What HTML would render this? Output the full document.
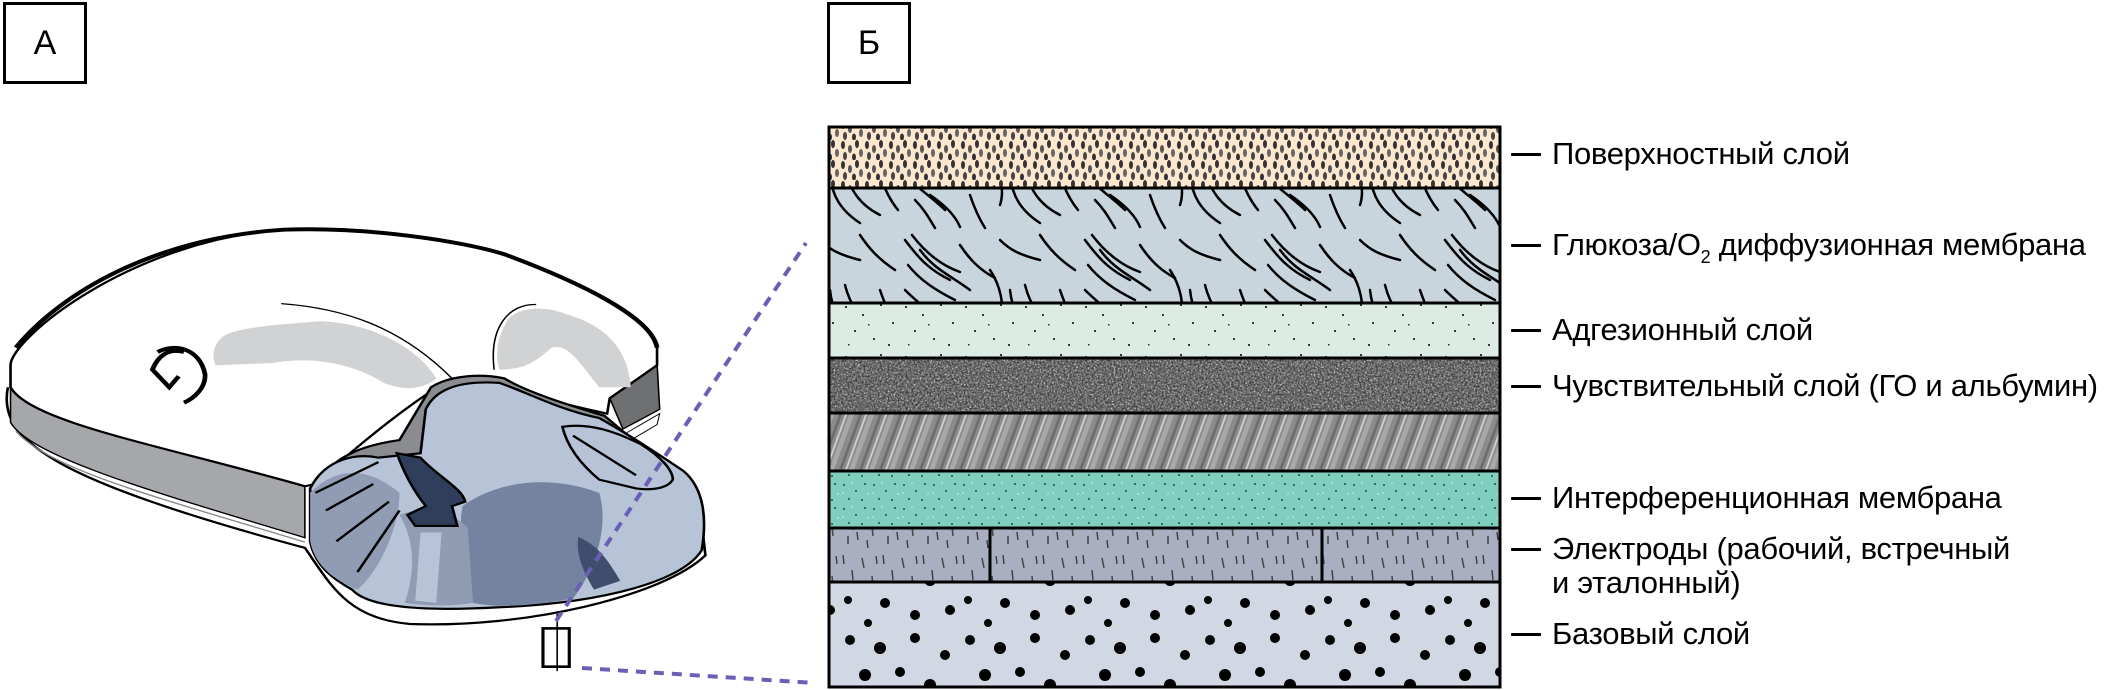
<!DOCTYPE html>
<html><head><meta charset="utf-8"><style>
html,body{margin:0;padding:0;background:#fff;}
body{width:2128px;height:690px;position:relative;overflow:hidden;font-family:"Liberation Sans","DejaVu Sans",sans-serif;}
.box{position:absolute;width:78px;height:76px;border:3px solid #000;box-sizing:content-box;font-size:34px;text-align:center;line-height:76px;}
.lbl{position:absolute;left:1552px;font-size:31px;color:#000;white-space:nowrap;letter-spacing:-0.3px;line-height:34px;}
.dash{position:absolute;left:1511px;width:30px;height:3px;background:#000;}
</style></head><body>
<div class="box" style="left:3px;top:2px;">А</div>
<div class="box" style="left:827px;top:2px;">Б</div>

<svg style="position:absolute;left:0;top:0" width="820" height="690" viewBox="0 0 1560 1568" preserveAspectRatio="none">
<!-- base plate -->
<path d="M15,880 C-5,1000 100,1090 580,1245 C630,1330 660,1405 780,1418 C1000,1428 1260,1355 1342,1262 L1330,1150 L1150,1000 L20,840 Z" fill="#fff"/>
<path d="M15,880 C-5,1000 100,1090 580,1245 C630,1330 660,1405 780,1418 C1000,1428 1260,1355 1342,1262 L1338,1220" fill="none" stroke="#000" stroke-width="5"/>
<path d="M30,980 C100,1070 300,1130 580,1232" fill="none" stroke="#888" stroke-width="3"/>
<!-- side band -->
<path d="M20,840 L20,960 C60,1040 300,1120 580,1222 L580,1105 C300,1010 60,960 20,880 Z" fill="#a6a7aa" stroke="#000" stroke-width="3"/>
<!-- right dark piece -->
<path d="M1160,905 L1250,825 L1255,930 L1185,975 Z" fill="#6f7072" stroke="#000" stroke-width="3"/>
<path d="M1190,985 L1255,940 L1250,965 L1200,1000 Z" fill="#fff" stroke="#000" stroke-width="2"/>
<!-- top surface -->
<path d="M20,830 C20,770 250,545 540,522 C700,515 880,548 960,578 C1100,640 1240,720 1250,790 L1250,830 L1160,905 L1155,940 C1000,900 900,860 860,860 C800,900 700,990 600,1100 L580,1105 C300,1010 60,960 20,880 Z" fill="#fff" stroke="#000" stroke-width="5"/>
<path d="M30,790 C120,660 300,540 540,522 C700,515 880,548 960,578 C1100,640 1240,720 1250,790" fill="none" stroke="#000" stroke-width="9"/>
<!-- light gray shapes -->
<path d="M430,760 C470,740 560,735 610,730 C720,735 800,800 830,860 C800,890 760,885 730,870 C650,810 560,815 520,825 L410,830 C400,800 410,775 430,760 Z" fill="#d1d2d4"/>
<path d="M960,740 C970,700 1030,690 1080,715 C1150,740 1195,790 1200,880 L1140,880 C1100,820 1080,780 1050,790 C1020,820 1000,840 950,840 C940,800 950,760 960,740 Z" fill="#d1d2d4"/>
<path d="M535,690 C650,700 760,740 860,860" fill="none" stroke="#000" stroke-width="3"/>
<path d="M1020,692 C970,690 930,740 940,840" fill="none" stroke="#000" stroke-width="3"/>
<!-- logo -->
<path d="M350,800 C320,790 300,810 290,840 L322,880 L340,855 M300,800 C330,780 380,790 390,850 C392,880 370,905 350,915" fill="none" stroke="#000" stroke-width="9"/>
<!-- shadow region -->
<path d="M600,1100 C640,1030 700,1010 760,1000 L820,880 C860,850 920,850 960,860 C1000,890 1080,920 1150,945 L1190,985 L1150,1000 L800,1050 Z" fill="#8b8c8f" stroke="#000" stroke-width="5"/>
<!-- blob -->
<path d="M590,1110 C620,1040 680,1030 720,1040 L800,1030 L810,930 C830,880 880,865 950,870 C1000,890 1060,930 1140,950 C1200,990 1250,1030 1300,1070 C1340,1110 1345,1180 1335,1250 C1300,1320 1150,1370 950,1380 C800,1390 700,1380 670,1340 C640,1320 600,1290 590,1230 Z" fill="#b7c3d7" stroke="#000" stroke-width="5"/>
<path d="M590,1120 C640,1060 700,1060 760,1120 C760,1200 720,1300 680,1340 C640,1320 600,1290 590,1230 Z" fill="#8f9cb4"/>
<path d="M880,1150 C950,1090 1050,1080 1140,1120 C1160,1200 1130,1300 1090,1360 C1000,1380 940,1380 900,1370 C880,1300 870,1220 880,1150 Z" fill="#7383a0"/>
<path d="M1100,1220 C1140,1240 1160,1280 1180,1320 L1130,1340 C1110,1300 1095,1260 1100,1220 Z" fill="#3e4e6c"/>
<path d="M760,1170 C800,1150 860,1160 890,1200 L900,1370 C850,1380 800,1375 770,1370 C790,1300 790,1230 760,1170 Z" fill="#8f9cb4"/>
<path d="M800,1210 L840,1210 L830,1370 L790,1365 Z" fill="#b7c3d7"/>
<!-- left ribs -->
<path d="M600,1120 L720,1050 M620,1160 L710,1100 M640,1230 L740,1140 M680,1300 L760,1160" fill="none" stroke="#000" stroke-width="5"/>
<!-- navy slot -->
<path d="M755,1030 L800,1040 C830,1080 880,1110 885,1140 L860,1150 L870,1195 L790,1195 L775,1170 L810,1150 C790,1120 770,1080 755,1030 Z" fill="#2f3e5b" stroke="#000" stroke-width="5"/>
<!-- right flap -->
<path d="M1070,970 C1120,960 1170,980 1220,1010 C1260,1040 1280,1070 1280,1090 C1270,1110 1240,1115 1210,1110 L1140,1090 C1110,1060 1080,1020 1070,970 Z" fill="#b7c3d7" stroke="#000" stroke-width="5"/>
<path d="M1090,990 L1210,1080" stroke="#000" stroke-width="5"/>
<!-- small rectangle marker -->
<rect x="1033" y="1428" width="50" height="87" fill="#fff" stroke="#000" stroke-width="6"/>
<line x1="1060" y1="1395" x2="1060" y2="1525" stroke="#000" stroke-width="3"/>
</svg>

<svg style="position:absolute;left:0;top:0" width="2128" height="690">
<defs>
<pattern id="p1" width="24" height="20" patternUnits="userSpaceOnUse">
<rect width="24" height="20" fill="#fde7cf"/>
<g fill="#333"><ellipse cx="3" cy="5" rx="2" ry="4"/><ellipse cx="10" cy="9" rx="2" ry="4" fill="#555"/><ellipse cx="17" cy="4" rx="2" ry="4"/><ellipse cx="21" cy="13" rx="2" ry="4" fill="#666"/><ellipse cx="5" cy="16" rx="2" ry="4" fill="#444"/><ellipse cx="14" cy="17" rx="2" ry="3.5"/></g>
</pattern>
<pattern id="p2" width="180" height="115" patternUnits="userSpaceOnUse">
<rect width="180" height="115" fill="#c8d5dc"/>
<g fill="none" stroke="#000" stroke-width="2.5" stroke-linecap="round">
<path d="M5,10 C20,30 30,40 50,50"/><path d="M12,5 C25,22 40,35 60,42"/><path d="M20,20 C35,40 50,45 70,60"/><path d="M8,35 C20,50 35,60 55,70"/><path d="M5,60 C20,75 35,85 45,95"/><path d="M30,80 C45,90 55,100 60,112"/><path d="M90,40 C100,55 105,75 100,90"/><path d="M110,60 C112,80 120,95 140,108"/><path d="M125,55 C130,75 140,90 160,100"/><path d="M140,5 C150,20 160,30 175,40"/><path d="M100,10 C110,20 120,25 140,30"/><path d="M160,60 C165,75 170,85 178,95"/><path d="M70,80 C75,95 80,105 85,113"/><path d="M60,15 C70,30 80,40 95,48"/><path d="M15,85 C25,95 30,105 35,113"/>
</g></pattern>
<pattern id="p3" width="60" height="50" patternUnits="userSpaceOnUse">
<rect width="60" height="50" fill="#dcebe4"/>
<g fill="#333"><rect x="5" y="6" width="2" height="2"/><rect x="22" y="14" width="2" height="2"/><rect x="40" y="4" width="2" height="2"/><rect x="52" y="22" width="2" height="2"/><rect x="14" y="30" width="2" height="2"/><rect x="33" y="38" width="2" height="2"/><rect x="48" y="44" width="2" height="2"/><rect x="8" y="44" width="1.5" height="1.5"/><rect x="28" y="24" width="1.5" height="1.5"/></g>
</pattern>
<pattern id="p5" width="20" height="60" patternUnits="userSpaceOnUse" patternTransform="skewX(-20)">
<rect width="20" height="60" fill="#8c8c8c"/><rect x="0" width="5" height="60" fill="#a8a8a8"/><rect x="10" width="3" height="60" fill="#6e6e6e"/><rect x="16" width="2" height="60" fill="#cfcfcf"/>
</pattern>
<pattern id="p6" width="30" height="24" patternUnits="userSpaceOnUse">
<rect width="30" height="24" fill="#80cfbe"/>
<g fill="#3a6a60"><rect x="3" y="4" width="2" height="2"/><rect x="15" y="10" width="2" height="2"/><rect x="24" y="3" width="2" height="2"/><rect x="8" y="18" width="2" height="2"/><rect x="21" y="19" width="2" height="2"/></g>
<g fill="#a5ddd0"><rect x="11" y="2" width="2" height="2"/><rect x="27" y="13" width="2" height="2"/><rect x="2" y="12" width="2" height="2"/></g>
</pattern>
<pattern id="p7" width="40" height="50" patternUnits="userSpaceOnUse">
<rect width="40" height="50" fill="#a9afc1"/>
<g stroke="#444" stroke-width="1.5"><line x1="3" y1="5" x2="4" y2="14"/><line x1="12" y1="20" x2="13" y2="30"/><line x1="22" y1="8" x2="24" y2="18"/><line x1="32" y1="26" x2="33" y2="36"/><line x1="8" y1="36" x2="8" y2="44"/><line x1="27" y1="40" x2="28" y2="48"/><line x1="17" y1="32" x2="18" y2="40"/><line x1="36" y1="6" x2="37" y2="14"/></g>
</pattern>
<pattern id="p8" width="120" height="105" patternUnits="userSpaceOnUse">
<rect width="120" height="105" fill="#d1d7e3"/>
<g fill="#000"><circle cx="10" cy="10" r="5"/><circle cx="40" cy="18" r="6"/><circle cx="75" cy="8" r="5"/><circle cx="105" cy="25" r="5"/><circle cx="25" cy="45" r="6"/><circle cx="60" cy="42" r="5"/><circle cx="90" cy="55" r="6"/><circle cx="8" cy="75" r="4"/><circle cx="45" cy="78" r="5"/><circle cx="75" cy="90" r="5"/><circle cx="110" cy="85" r="5"/><circle cx="28" cy="98" r="4"/></g>
</pattern>
<filter id="noise" x="0" y="0" width="100%" height="100%"><feTurbulence type="fractalNoise" baseFrequency="0.5" numOctaves="2" seed="3"/><feColorMatrix type="matrix" values="0 0 0 0 0.05  0 0 0 0 0.05  0 0 0 0 0.05  0 0 0 3 -1.2"/><feComposite in2="SourceGraphic" operator="in"/></filter>
<filter id="noise2" x="0" y="0" width="100%" height="100%"><feTurbulence type="fractalNoise" baseFrequency="0.7" numOctaves="1" seed="9"/><feColorMatrix type="matrix" values="0 0 0 0 0.75  0 0 0 0 0.75  0 0 0 0 0.75  0 0 0 3 -1.4"/><feComposite in2="SourceGraphic" operator="in"/></filter>
</defs>
<rect x="829" y="127" width="671" height="61" fill="url(#p1)"/>
<rect x="829" y="188" width="671" height="115" fill="url(#p2)"/>
<rect x="829" y="303" width="671" height="55" fill="url(#p3)"/>
<rect x="829" y="358" width="671" height="55" fill="#6c6c6c"/>
<rect x="829" y="358" width="671" height="55" fill="#6c6c6c" filter="url(#noise2)"/>
<rect x="829" y="358" width="671" height="55" fill="#6c6c6c" filter="url(#noise)"/>
<rect x="829" y="413" width="671" height="58" fill="url(#p5)"/>
<rect x="829" y="471" width="671" height="57" fill="url(#p6)"/>
<rect x="829" y="528" width="671" height="54" fill="url(#p7)"/>
<rect x="829" y="582" width="671" height="105" fill="url(#p8)"/>
<g stroke="#000" stroke-width="3" fill="none">
<rect x="829" y="127" width="671" height="560"/>
<line x1="829" y1="188" x2="1500" y2="188"/><line x1="829" y1="303" x2="1500" y2="303"/><line x1="829" y1="358" x2="1500" y2="358"/><line x1="829" y1="413" x2="1500" y2="413"/><line x1="829" y1="471" x2="1500" y2="471"/><line x1="829" y1="528" x2="1500" y2="528"/><line x1="829" y1="582" x2="1500" y2="582"/>
<line x1="990" y1="528" x2="990" y2="582"/><line x1="1322" y1="528" x2="1322" y2="582"/>
</g>
<g stroke="#6b5fb5" stroke-width="4" stroke-dasharray="10,8">
<line x1="556" y1="621" x2="806" y2="243"/>
<line x1="582" y1="668" x2="815" y2="683"/>
</g>
</svg>

<div class="dash" style="top:153px"></div><div class="lbl" style="top:137px">Поверхностный слой</div>
<div class="dash" style="top:244px"></div><div class="lbl" style="top:228px">Глюкоза/O<sub style="font-size:18px;vertical-align:-8px;line-height:0">2</sub> диффузионная мембрана</div>
<div class="dash" style="top:329px"></div><div class="lbl" style="top:313px">Адгезионный слой</div>
<div class="dash" style="top:385px"></div><div class="lbl" style="top:369px">Чувствительный слой (ГО и альбумин)</div>
<div class="dash" style="top:497px"></div><div class="lbl" style="top:481px">Интерференционная мембрана</div>
<div class="dash" style="top:548px"></div><div class="lbl" style="top:532px">Электроды (рабочий, встречный<br>и эталонный)</div>
<div class="dash" style="top:633px"></div><div class="lbl" style="top:617px">Базовый слой</div>
</body></html>
